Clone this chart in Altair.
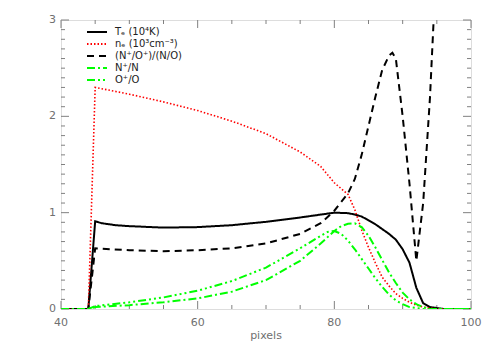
import altair as alt
import pandas as pd

# ---- data ----
series_names = ["Tₑ (10⁴K)", "nₑ (10³cm⁻³)", "(N⁺/O⁺)/(N/O)", "N⁺/N", "O⁺/O"]
series_colors = ["#000000", "#ff0000", "#000000", "#00ff00", "#00ff00"]
series_dashes = [[1, 0], [1.5, 2], [7, 5], [8, 3, 2, 3], [8, 3, 2, 3, 2, 3, 2, 3]]
series_widths = [2, 1.6, 2, 2, 2]

te_x = [40, 44, 45, 46, 48, 50, 55, 60, 65, 70, 75, 78, 80, 82, 83, 84, 85, 86, 87, 88, 89, 90, 91, 92, 93, 94, 95, 96, 100]
te_y = [0, 0, 0.91, 0.89, 0.87, 0.86, 0.845, 0.85, 0.87, 0.905, 0.95, 0.98, 1.0, 0.995, 0.98, 0.96, 0.92, 0.88, 0.83, 0.78, 0.72, 0.62, 0.48, 0.22, 0.06, 0.02, 0.01, 0, 0]

ne_x = [40, 44, 45, 50, 55, 60, 65, 70, 75, 78, 80, 82, 83, 84, 85, 86, 87, 88, 89, 90, 91, 92, 93, 94, 95, 100]
ne_y = [0, 0, 2.30, 2.23, 2.15, 2.06, 1.95, 1.82, 1.63, 1.48, 1.31, 1.19, 1.03, 0.82, 0.64, 0.48, 0.33, 0.24, 0.16, 0.11, 0.07, 0.04, 0.02, 0.01, 0, 0]

ratio_x = [40, 44, 45, 50, 55, 60, 65, 70, 75, 78, 80, 82, 83, 84, 85, 86, 87, 88, 88.5, 89, 90, 91, 92, 93, 94, 95]
ratio_y = [0, 0, 0.63, 0.61, 0.60, 0.61, 0.63, 0.68, 0.78, 0.89, 1.02, 1.2, 1.35, 1.6, 1.9, 2.2, 2.48, 2.63, 2.66, 2.6, 2.0, 1.3, 0.5, 1.1, 2.2, 3.7]

nn_x = [40, 44, 45, 50, 55, 60, 65, 70, 75, 78, 80, 81, 82, 83, 84, 85, 86, 87, 88, 89, 90, 91, 92, 93, 94, 100]
nn_y = [0, 0, 0.02, 0.04, 0.07, 0.11, 0.18, 0.30, 0.50, 0.68, 0.81, 0.86, 0.885, 0.89, 0.85, 0.76, 0.64, 0.51, 0.38, 0.27, 0.17, 0.10, 0.05, 0.02, 0, 0]

oo_x = [40, 44, 45, 50, 55, 60, 65, 70, 75, 78, 79, 80, 81, 82, 83, 84, 85, 86, 87, 88, 89, 90, 91, 92, 93, 100]
oo_y = [0, 0, 0.03, 0.07, 0.12, 0.19, 0.29, 0.43, 0.63, 0.76, 0.80, 0.81, 0.78, 0.71, 0.62, 0.52, 0.42, 0.32, 0.23, 0.15, 0.09, 0.05, 0.02, 0.01, 0, 0]

x_major = [40, 60, 80, 100]
x_minor = [45, 50, 55, 65, 70, 75, 85, 90, 95]
y_major = [0, 1, 2, 3]
y_minor = [round(i * 0.1, 1) for i in range(1, 30) if i % 10 != 0]
x_title = "pixels"

all_x = [te_x, ne_x, ratio_x, nn_x, oo_x]
all_y = [te_y, ne_y, ratio_y, nn_y, oo_y]

FONT = "DejaVu Sans"
GREY = "#808080"
TEXT_GREY = "#707070"
W, H = 410, 289
MAJOR, MINOR = 8, 4
X0, X1 = 40, 100
Y0, Y1 = 0, 3

xscale = alt.Scale(domain=[X0, X1], nice=False, zero=False)
yscale = alt.Scale(domain=[Y0, Y1], nice=False)
cscale = alt.Scale(domain=series_names, range=series_colors)
dscale = alt.Scale(domain=series_names, range=series_dashes)

legend = alt.Legend(
    title=None, orient="none", legendX=25, legendY=6, padding=0,
    symbolType="stroke", symbolSize=400, symbolStrokeWidth=2,
    clipHeight=12, rowPadding=0, labelOffset=7, symbolOffset=0,
    labelFont=FONT, labelFontSize=10, labelColor="#222222",
)

layers = []
for i, name in enumerate(series_names):
    df = pd.DataFrame({"x": all_x[i], "y": all_y[i], "series": name})
    layers.append(
        alt.Chart(df).mark_line(clip=True, strokeWidth=series_widths[i]).encode(
            x=alt.X("x:Q", scale=xscale, axis=None),
            y=alt.Y("y:Q", scale=yscale, axis=None),
            color=alt.Color("series:N", scale=cscale, legend=legend),
            strokeDash=alt.StrokeDash("series:N", scale=dscale, legend=legend),
        )
    )

# inward tick segments on all four sides (IDL style), lengths converted from pixels
px_x = (X1 - X0) / W
px_y = (Y1 - Y0) / H
seg = {"x": [], "x2": [], "y": [], "y2": []}


def add(x, x2, y, y2):
    seg["x"].append(x); seg["x2"].append(x2); seg["y"].append(y); seg["y2"].append(y2)


for vals, L in ((x_major, MAJOR), (x_minor, MINOR)):
    for v in vals:
        add(v, v, Y0, Y0 + L * px_y)
        add(v, v, Y1 - L * px_y, Y1)
for vals, L in ((y_major, MAJOR), (y_minor, MINOR)):
    for v in vals:
        add(X0, X0 + L * px_x, v, v)
        add(X1 - L * px_x, X1, v, v)
ticks_df = pd.DataFrame(seg)

ticks = alt.Chart(ticks_df).mark_rule(color=GREY, strokeWidth=1).encode(
    x=alt.X("x:Q", scale=xscale, axis=None),
    x2="x2:Q",
    y=alt.Y("y:Q", scale=yscale, axis=None),
    y2="y2:Q",
)

# tick labels and axis title
xl_df = pd.DataFrame({"x": x_major, "label": [str(v) for v in x_major]})
yl_df = pd.DataFrame({"y": y_major, "label": [str(v) for v in y_major]})

x_labels = alt.Chart(xl_df).mark_text(
    font=FONT, fontSize=11, color=TEXT_GREY, align="center", baseline="middle"
).encode(x=alt.X("x:Q", scale=xscale, axis=None), y=alt.value(H + 14), text="label:N")

y_labels = alt.Chart(yl_df).mark_text(
    font=FONT, fontSize=11, color=TEXT_GREY, align="right", baseline="middle"
).encode(y=alt.Y("y:Q", scale=yscale, axis=None), x=alt.value(-5), text="label:N")

title = alt.Chart(pd.DataFrame({"t": [x_title]})).mark_text(
    font=FONT, fontSize=11, color=TEXT_GREY, align="center", baseline="middle"
).encode(x=alt.value(W / 2), y=alt.value(H + 27), text="t:N")

chart = (
    alt.layer(ticks, *layers, x_labels, y_labels, title)
    .properties(width=W, height=H, autosize="none",
                padding={"left": 53, "top": 12, "right": 12, "bottom": 33})
    .configure_view(stroke=GREY, strokeWidth=1)
    .configure(background="white")
)

chart.save("out.html", embed_options={"renderer": "svg", "actions": False})
